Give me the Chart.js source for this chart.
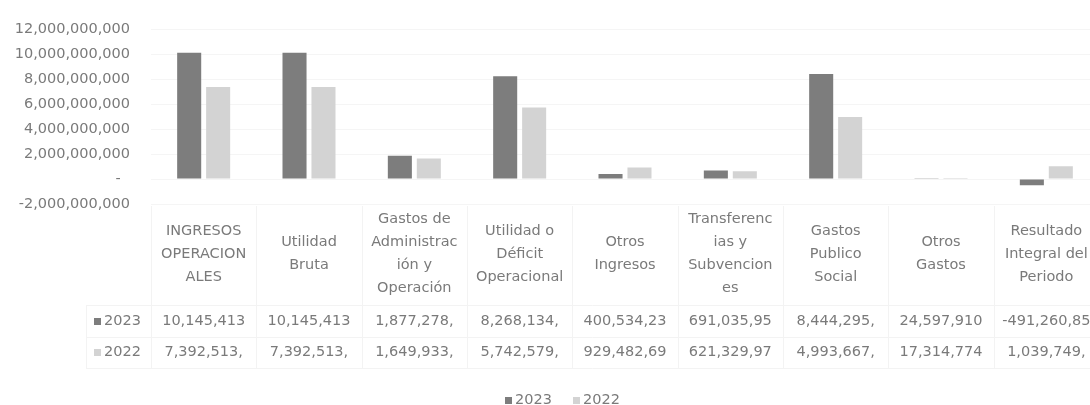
<!DOCTYPE html>
<html>
<head>
<meta charset="utf-8">
<script src="https://cdn.jsdelivr.net/npm/chart.js@4.4.1/dist/chart.umd.min.js"></script>
<style>
  html, body { margin: 0; padding: 0; background: #ffffff; overflow: hidden; }
  #wrap { width: 1100px; height: 405px; }
</style>
</head>
<body>
<div id="wrap"><canvas id="c" width="1100" height="405"></canvas></div>
<script>
// ---- data ----
const categories = [
  ["INGRESOS", "OPERACION", "ALES"],
  ["Utilidad", "Bruta"],
  ["Gastos de", "Administrac", "ión y", "Operación"],
  ["Utilidad o", "Déficit", "Operacional"],
  ["Otros", "Ingresos"],
  ["Transferenc", "ias y", "Subvencion", "es"],
  ["Gastos", "Publico", "Social"],
  ["Otros", "Gastos"],
  ["Resultado", "Integral del", "Periodo"]
];
const seriesNames = ["2023", "2022"];
const values2023 = [10145413000, 10145413000, 1877278000, 8268134000, 400534230, 691035950, 8444295000, 24597910, -491260850];
const values2022 = [7392513000, 7392513000, 1649933000, 5742579000, 929482690, 621329970, 4993667000, 17314774, 1039749000];
const yTicks = [-2000000000, 0, 2000000000, 4000000000, 6000000000, 8000000000, 10000000000, 12000000000];

// ---- styles ----
const FONT = "DejaVu Sans";
const TEXT = "#7a7a7a";
const C2023 = "#7d7d7d";
const C2022 = "#d3d3d3";
const FAINT = "#f3f3f3";

function fmt(v) {
  return Math.abs(v).toLocaleString("en-US");
}
// Table cells show the value cut to the column width (as in the source)
function cellText(v) {
  const s = fmt(v).slice(0, 10);
  return (v < 0 ? "-" : "") + s;
}

const tablePlugin = {
  id: "dataTable",
  afterDraw(chart) {
    const ctx = chart.ctx;
    const x = chart.scales.x;
    const n = categories.length;
    const w = x.getPixelForValue(1) - x.getPixelForValue(0);
    ctx.save();
    // faint table lines
    ctx.strokeStyle = FAINT;
    ctx.lineWidth = 1;
    const left = x.getPixelForValue(0) - w / 2;
    const right = x.getPixelForValue(n - 1) + w / 2;
    for (let i = 0; i <= n; i++) {
      const bx = Math.round(left + i * w) + 0.5;
      ctx.beginPath(); ctx.moveTo(bx, 206); ctx.lineTo(bx, 368); ctx.stroke();
    }
    [305, 337, 368].forEach(function (yy) {
      ctx.beginPath(); ctx.moveTo(86, yy + 0.5); ctx.lineTo(right, yy + 0.5); ctx.stroke();
    });
    ctx.beginPath(); ctx.moveTo(86.5, 305); ctx.lineTo(86.5, 368); ctx.stroke();

    ctx.font = "14.5px '" + FONT + "'";
    ctx.fillStyle = TEXT;
    ctx.textAlign = "center";
    ctx.textBaseline = "middle";
    const lh = 23, midY = 254;
    for (let i = 0; i < n; i++) {
      const cx = x.getPixelForValue(i);
      const lines = categories[i];
      const y0 = midY - (lines.length - 1) * lh / 2;
      lines.forEach(function (t, k) { ctx.fillText(t, cx, y0 + k * lh); });
      ctx.fillText(cellText(values2023[i]), cx, 321);
      ctx.fillText(cellText(values2022[i]), cx, 352);
    }
    // row labels with keys
    const rows = [[seriesNames[0], C2023, 321], [seriesNames[1], C2022, 352]];
    ctx.textAlign = "left";
    rows.forEach(function (r) {
      ctx.fillStyle = r[1];
      ctx.fillRect(94, r[2] - 3, 7, 7);
      ctx.fillStyle = TEXT;
      ctx.fillText(r[0], 104, r[2]);
    });
    // legend
    const leg = [[seriesNames[0], C2023, 505], [seriesNames[1], C2022, 573]];
    leg.forEach(function (r) {
      ctx.fillStyle = r[1];
      ctx.fillRect(r[2], 397, 7, 7);
      ctx.fillStyle = TEXT;
      ctx.fillText(r[0], r[2] + 10, 400);
    });
    ctx.restore();
  }
};

new Chart(document.getElementById("c"), {
  type: "bar",
  data: {
    labels: categories,
    datasets: [
      { label: seriesNames[0], data: values2023, backgroundColor: C2023, borderWidth: 0,
        barPercentage: 0.83, categoryPercentage: 0.55 },
      { label: seriesNames[1], data: values2022, backgroundColor: C2022, borderWidth: 0,
        barPercentage: 0.83, categoryPercentage: 0.55 }
    ]
  },
  options: {
    responsive: false,
    animation: false,
    layout: { padding: { top: 22, bottom: 201, left: 0, right: 1 } },
    plugins: { legend: { display: false }, tooltip: { enabled: false } },
    scales: {
      x: { display: false },
      y: {
        min: -2000000000,
        max: 12000000000,
        afterBuildTicks: function (s) { s.ticks = yTicks.map(function (v) { return { value: v }; }); },
        afterFit: function (s) { s.width = 151; },
        border: { display: false },
        grid: { color: "#f5f5f5", drawTicks: false },
        ticks: {
          padding: 21,
          color: TEXT,
          font: { family: FONT, size: 14.5 },
          callback: function (v) { return v === 0 ? "-  " : (v < 0 ? "-" : "") + fmt(v); }
        }
      }
    }
  },
  plugins: [tablePlugin]
});
</script>
</body>
</html>
